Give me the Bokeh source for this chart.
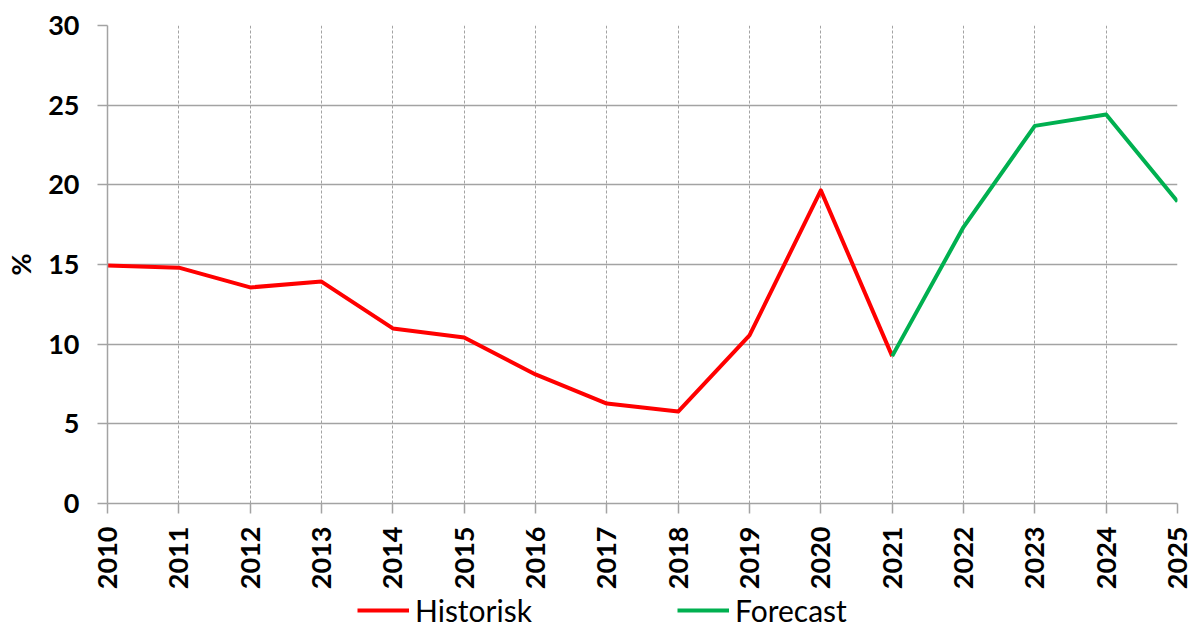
import math
from bokeh.plotting import figure
from bokeh.layouts import column
from bokeh.models import FixedTicker, Legend, LegendItem
from bokeh.embed import file_html
from bokeh.resources import INLINE

years = list(range(2010, 2026))
hist_years = [2010, 2011, 2012, 2013, 2014, 2015, 2016, 2017, 2018, 2019, 2020, 2021]
hist_values = [14.93, 14.8, 13.56, 13.93, 10.99, 10.42, 8.1, 6.27, 5.77, 10.55, 19.65, 9.25]
fc_years = [2021, 2022, 2023, 2024, 2025]
fc_values = [9.25, 17.35, 23.7, 24.42, 18.95]
y_ticks = [0, 5, 10, 15, 20, 25, 30]
series_names = ["Historisk", "Forecast"]
series_colors = ["#ff0000", "#00b050"]

FONT = "Lato"
GRID = "#a3a3a3"

p = figure(width=1192, height=592, x_range=(2010, 2025), y_range=(0, 30),
           output_backend="svg", toolbar_location=None,
           min_border_left=107, min_border_top=25, min_border_right=15, min_border_bottom=89)
p.outline_line_color = None

p.line(hist_years, hist_values, line_color=series_colors[0], line_width=4, line_join="round")
p.line(fc_years, fc_values, line_color=series_colors[1], line_width=4, line_join="round")

p.xaxis.ticker = FixedTicker(ticks=years)
p.yaxis.ticker = FixedTicker(ticks=y_ticks)

for ax in (p.xaxis, p.yaxis):
    ax.axis_line_color = GRID
    ax.axis_line_width = 1.5
    ax.major_tick_line_color = GRID
    ax.major_tick_line_width = 1.5
    ax.major_tick_in = 0
    ax.major_tick_out = 10
    ax.minor_tick_line_color = None
    ax.major_label_text_font = FONT
    ax.major_label_text_font_style = "bold"
    ax.major_label_text_font_size = "27px"
    ax.major_label_text_color = "black"

p.xaxis.major_label_orientation = math.pi / 2
p.xaxis.major_label_standoff = 13
p.yaxis.major_label_standoff = 18
p.yaxis.axis_label = "%"
p.yaxis.axis_label_text_font = FONT
p.yaxis.axis_label_text_font_style = "bold"
p.yaxis.axis_label_text_font_size = "27px"
p.yaxis.axis_label_text_color = "black"
p.yaxis.axis_label_standoff = 8

p.xgrid.ticker = FixedTicker(ticks=years)
p.xgrid.grid_line_color = GRID
p.xgrid.grid_line_width = 1
p.xgrid.grid_line_dash = "3 2"
p.ygrid.ticker = FixedTicker(ticks=y_ticks)
p.ygrid.grid_line_color = GRID
p.ygrid.grid_line_width = 1.5

# legend strip below the chart (series drawn out of its visible range, only the legend shows)
lf = figure(width=1192, height=36, x_range=(0, 1), y_range=(0, 1),
            output_backend="svg", toolbar_location=None,
            x_axis_type=None, y_axis_type=None, min_border=0)
lf.outline_line_color = None
lf.xgrid.visible = False
lf.ygrid.visible = False
items = []
for name, col, xs, ys in zip(series_names, series_colors, [hist_years, fc_years], [hist_values, fc_values]):
    r = lf.line(x=xs, y=ys, line_color=col, line_width=4)
    items.append(LegendItem(label=name, renderers=[r]))

legend = Legend(items=items, orientation="horizontal", location=(250, 0),
                glyph_width=52, label_standoff=6, spacing=70, label_width=192,
                padding=0, margin=0, border_line_color=None,
                background_fill_alpha=0, label_text_color="black",
                label_text_font=FONT, label_text_font_size="30px")
lf.add_layout(legend, "center")

layout = column(p, lf, spacing=0)
open("out.html", "w").write(file_html(layout, INLINE))
